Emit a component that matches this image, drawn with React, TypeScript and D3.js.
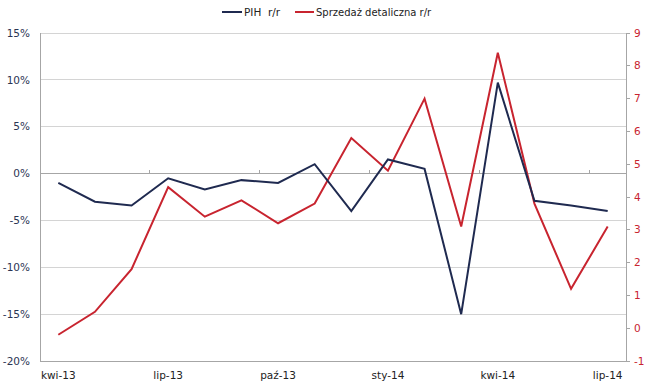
import React from "react";
import * as d3 from "d3";

const categories = ["kwi-13","maj-13","cze-13","lip-13","sie-13","wrz-13","paź-13","lis-13","gru-13","sty-14","lut-14","mar-14","kwi-14","maj-14","cze-14","lip-14"];
const pihValues = [-1.0,-3.0,-3.4,-0.5,-1.7,-0.7,-1.0,1.0,-4.0,1.5,0.5,-15.0,9.7,-2.9,-3.4,-4.0];
const retailValues = [-0.2,0.5,1.8,4.3,3.4,3.9,3.2,3.8,5.8,4.8,7.0,3.1,8.4,3.8,1.2,3.1];
const leftTicks = [15,10,5,0,-5,-10,-15,-20];
const rightTicks = [9,8,7,6,5,4,3,2,1,0,-1];
const labelEvery = 3;

const W = 653, H = 390;
const M = { left: 40, right: 626, top: 33, bottom: 361 };
const NAVY = "#1f2a50";
const RED = "#c8242f";
const FONT = "DejaVu Sans, Verdana, sans-serif";

export default function App() {
  const x = d3.scaleBand<string>().domain(categories).range([M.left, M.right]);
  const cx = (c: string) => (x(c) as number) + x.bandwidth() / 2;
  const yL = d3.scaleLinear().domain([-20, 15]).range([M.bottom, M.top]);
  const yR = d3.scaleLinear().domain([-1, 9]).range([M.bottom, M.top]);

  const linePih = d3.line<number>().x((_, i) => cx(categories[i])).y((d) => yL(d));
  const lineRetail = d3.line<number>().x((_, i) => cx(categories[i])).y((d) => yR(d));

  const step = x.step();
  const tickXs = d3.range(labelEvery, categories.length, labelEvery).map((k) => M.left + k * step);

  return (
    <svg width={W} height={H} style={{ position: "absolute", left: 0, top: 0, background: "#fff" }} fontFamily={FONT}>
      {leftTicks.map((t) => (
        <line key={"g" + t} x1={M.left} x2={M.right} y1={yL(t)} y2={yL(t)} stroke={t === 0 ? "#a6a6a6" : "#d4d4d4"} strokeWidth={1} shapeRendering="crispEdges" />
      ))}
      {tickXs.map((tx, i) => (
        <line key={"ct" + i} x1={tx} x2={tx} y1={yL(0)} y2={yL(0) - 4} stroke="#a6a6a6" shapeRendering="crispEdges" />
      ))}
      <line x1={M.left} x2={M.left} y1={M.top} y2={M.bottom} stroke="#a6a6a6" shapeRendering="crispEdges" />
      <line x1={M.right} x2={M.right} y1={M.top} y2={M.bottom} stroke="#a6a6a6" shapeRendering="crispEdges" />
      <line x1={M.left} x2={M.right} y1={M.bottom} y2={M.bottom} stroke="#a6a6a6" shapeRendering="crispEdges" />
      {leftTicks.map((t) => (
        <text key={"l" + t} x={30} y={yL(t)} dy="0.35em" textAnchor="end" fontSize={10.5} fill="#2b3553">{t + "%"}</text>
      ))}
      {rightTicks.map((t) => (
        <g key={"r" + t}>
          <line x1={M.right} x2={M.right + 4} y1={yR(t)} y2={yR(t)} stroke="#a6a6a6" shapeRendering="crispEdges" />
          <text x={634} y={yR(t)} dy="0.35em" textAnchor="start" fontSize={10.5} fill={RED}>{t}</text>
        </g>
      ))}
      {categories.map((c, i) => i % labelEvery === 0 ? (
        <text key={"x" + c} x={cx(c)} y={379} textAnchor="middle" fontSize={10.5} fill="#222">{c}</text>
      ) : null)}
      <path d={lineRetail(retailValues) || ""} fill="none" stroke={RED} strokeWidth={2} strokeLinejoin="miter" />
      <path d={linePih(pihValues) || ""} fill="none" stroke={NAVY} strokeWidth={2} strokeLinejoin="miter" />
      <line x1={222} x2={242} y1={12} y2={12} stroke={NAVY} strokeWidth={2} />
      <text x={244} y={12} dy="0.35em" fontSize={10.5} fill="#222" style={{ whiteSpace: "pre" }}>{"PIH\u00a0\u00a0r/r"}</text>
      <line x1={295} x2={314} y1={12} y2={12} stroke={RED} strokeWidth={2} />
      <text x={316} y={12} dy="0.35em" fontSize={10} fill="#222">Sprzedaż detaliczna r/r</text>
    </svg>
  );
}
